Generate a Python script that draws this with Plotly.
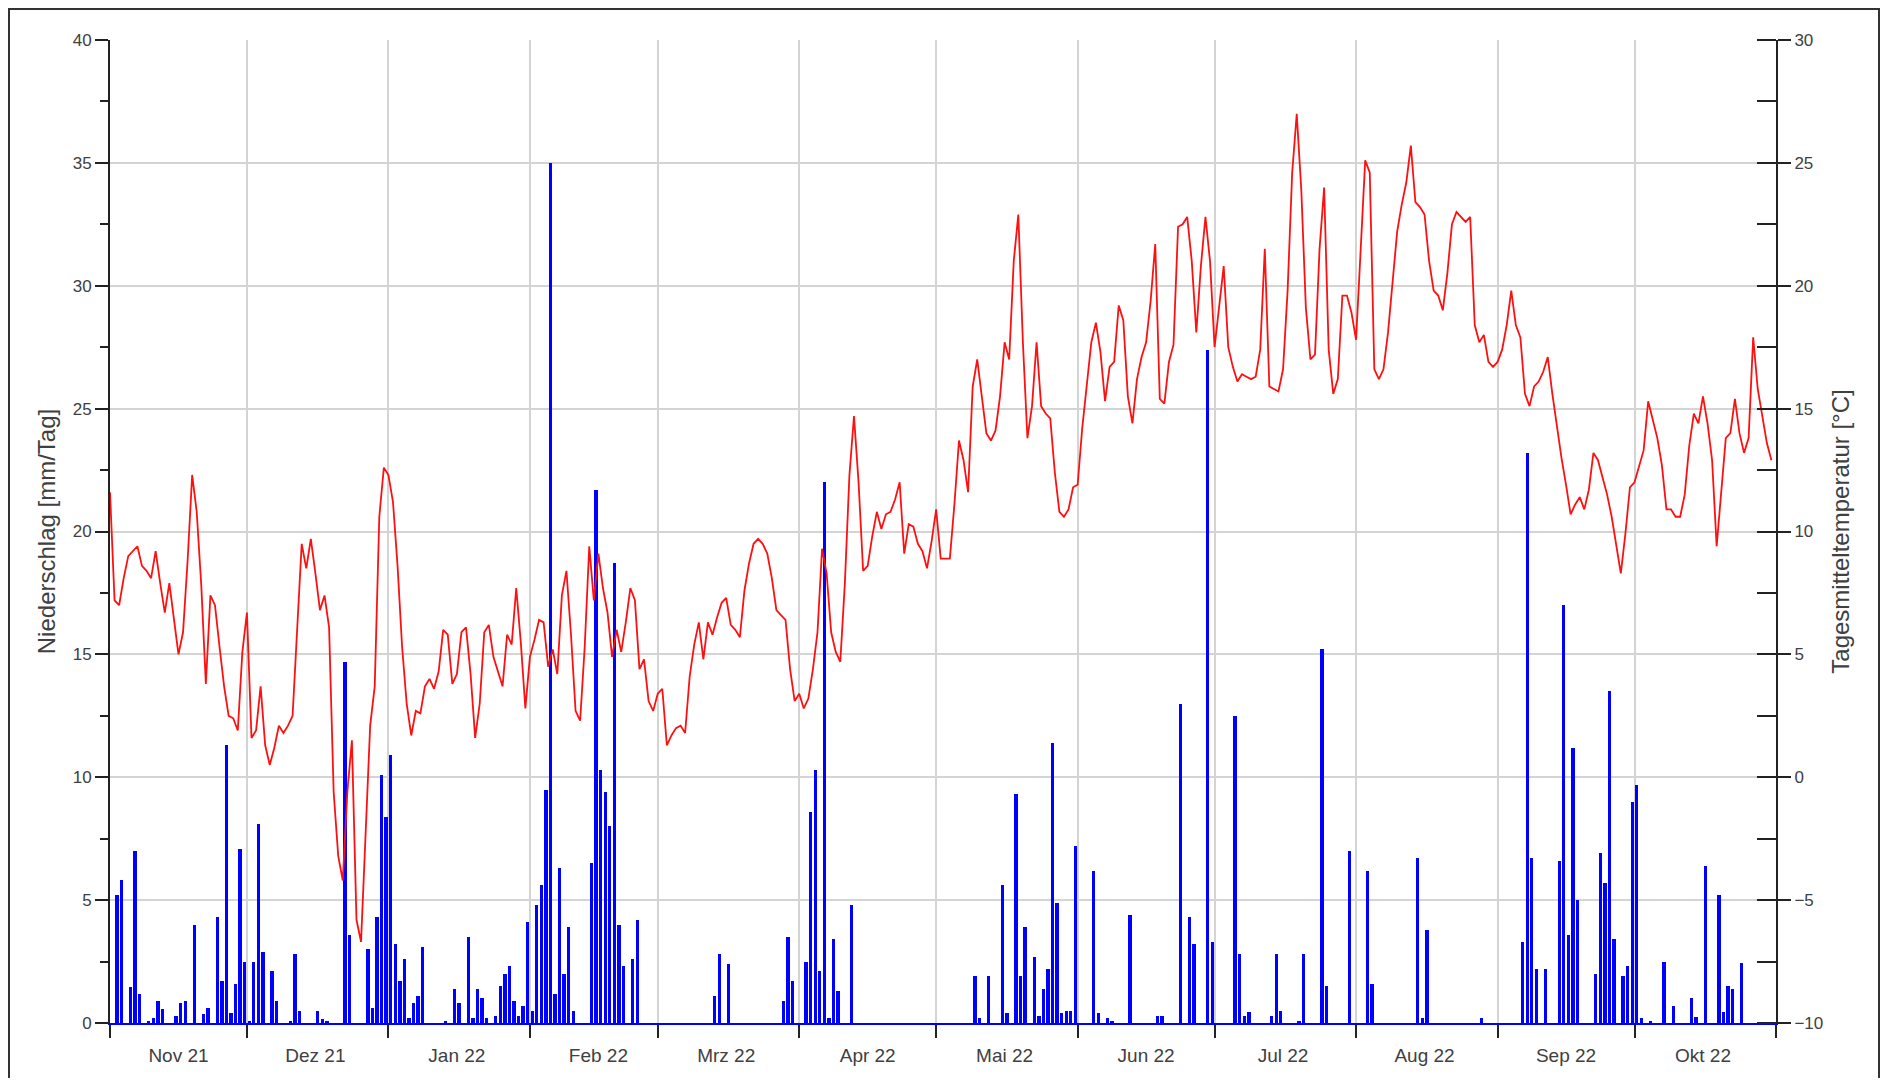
import pandas as pd
import plotly.graph_objects as go

# ---- data (daily values, 1 Nov 2021 .. 31 Oct 2022) ----
start_date = "2021-11-01"
end_date = "2022-11-01"

month_labels = ["Nov 21", "Dez 21", "Jan 22", "Feb 22", "Mrz 22", "Apr 22",
                "Mai 22", "Jun 22", "Jul 22", "Aug 22", "Sep 22", "Okt 22"]

# daily mean temperature [°C]
temperature = [
    # Nov 21
    11.6, 7.2, 7.0, 8.1, 9.0, 9.2, 9.4, 8.6, 8.4, 8.1, 9.2, 7.9, 6.7, 7.9, 6.4,
    5.0, 5.9, 8.8, 12.3, 10.8, 7.8, 3.8, 7.4, 7.0, 5.3, 3.7, 2.5, 2.4, 1.9, 5.1,
    # Dez 21
    6.7, 1.6, 1.9, 3.7, 1.3, 0.5, 1.2, 2.1, 1.8, 2.1, 2.5, 6.1, 9.5, 8.5, 9.7,
    8.3, 6.8, 7.4, 6.1, -0.6, -3.2, -4.2, -0.6, 1.5, -5.8, -6.7, -2.3, 2.1, 3.7,
    10.6, 12.6,
    # Jan 22
    12.3, 11.2, 8.6, 5.3, 3.0, 1.7, 2.7, 2.6, 3.7, 4.0, 3.6, 4.3, 6.0, 5.8, 3.8,
    4.2, 5.9, 6.1, 4.2, 1.6, 3.0, 5.9, 6.2, 4.9, 4.3, 3.7, 5.8, 5.4, 7.7, 5.5, 2.8,
    # Feb 22
    4.9, 5.6, 6.4, 6.3, 4.5, 5.2, 4.2, 7.4, 8.4, 5.8, 2.7, 2.3, 5.3, 9.4, 7.2,
    9.1, 7.7, 6.7, 4.9, 6.0, 5.1, 6.3, 7.7, 7.2, 4.4, 4.8, 3.1, 2.7,
    # Mrz 22
    3.4, 3.6, 1.3, 1.7, 2.0, 2.1, 1.8, 4.1, 5.4, 6.3, 4.8, 6.3, 5.8, 6.5, 7.1,
    7.3, 6.2, 6.0, 5.7, 7.6, 8.7, 9.5, 9.7, 9.5, 9.1, 8.1, 6.8, 6.6, 6.4, 4.4, 3.1,
    # Apr 22
    3.4, 2.8, 3.2, 4.4, 5.9, 9.3, 8.3, 5.9, 5.1, 4.7, 7.9, 12.3, 14.7, 12.0, 8.4,
    8.6, 9.8, 10.8, 10.1, 10.7, 10.8, 11.3, 12.0, 9.1, 10.3, 10.2, 9.5, 9.2, 8.5, 9.6,
    # Mai 22
    10.9, 8.9, 8.9, 8.9, 11.1, 13.7, 12.9, 11.6, 15.9, 17.0, 15.5, 14.0, 13.7, 14.1,
    15.5, 17.7, 17.0, 21.0, 22.9, 17.7, 13.8, 15.1, 17.7, 15.1, 14.8, 14.6, 12.4,
    10.8, 10.6, 10.9, 11.8,
    # Jun 22
    11.9, 14.2, 15.9, 17.7, 18.5, 17.3, 15.3, 16.7, 16.9, 19.2, 18.6, 15.5, 14.4,
    16.2, 17.1, 17.7, 19.4, 21.7, 15.4, 15.2, 16.9, 17.6, 22.4, 22.5, 22.8, 21.0,
    18.1, 20.8, 22.8, 21.0,
    # Jul 22
    17.5, 19.2, 20.8, 17.5, 16.7, 16.1, 16.4, 16.3, 16.2, 16.3, 17.4, 21.5, 15.9,
    15.8, 15.7, 16.6, 19.8, 24.6, 27.0, 23.9, 19.1, 17.0, 17.2, 21.5, 24.0, 17.4,
    15.6, 16.2, 19.6, 19.6, 18.9,
    # Aug 22
    17.8, 21.5, 25.1, 24.6, 16.6, 16.2, 16.6, 18.1, 20.1, 22.2, 23.3, 24.2, 25.7,
    23.4, 23.2, 22.9, 21.0, 19.8, 19.6, 19.0, 20.5, 22.5, 23.0, 22.8, 22.6, 22.8,
    18.4, 17.7, 18.0, 16.9, 16.7,
    # Sep 22
    16.9, 17.4, 18.4, 19.8, 18.4, 17.9, 15.6, 15.1, 15.9, 16.1, 16.5, 17.1, 15.6,
    14.2, 13.0, 11.9, 10.7, 11.1, 11.4, 10.9, 11.7, 13.2, 12.9, 12.2, 11.5, 10.6,
    9.4, 8.3, 9.9, 11.8,
    # Okt 22
    12.0, 12.6, 13.3, 15.3, 14.6, 13.8, 12.7, 10.9, 10.9, 10.6, 10.6, 11.5, 13.5,
    14.8, 14.4, 15.5, 14.4, 12.9, 9.4, 11.5, 13.8, 14.0, 15.4, 14.0, 13.2, 13.8,
    17.9, 15.8, 14.7, 13.6, 12.9,
]

# daily precipitation [mm/Tag]
precipitation = [
    # Nov 21
    0, 5.2, 5.8, 0, 1.45, 7.0, 1.2, 0, 0.05, 0.2, 0.9, 0.55, 0, 0, 0.3,
    0.8, 0.9, 0, 4.0, 0, 0.35, 0.6, 0, 4.3, 1.7, 11.3, 0.4, 1.6, 7.1, 2.5,
    # Dez 21
    0.1, 2.5, 8.1, 2.9, 0, 2.1, 0.9, 0, 0, 0.05, 2.8, 0.5, 0, 0, 0,
    0.5, 0.15, 0.1, 0, 0, 0, 14.7, 3.6, 0, 0, 0, 3.0, 0.6, 4.3, 10.1, 8.4,
    # Jan 22
    10.9, 3.2, 1.7, 2.6, 0.2, 0.8, 1.1, 3.1, 0, 0, 0, 0, 0.1, 0, 1.4,
    0.8, 0, 3.5, 0.2, 1.4, 1.0, 0.2, 0, 0.3, 1.5, 2.0, 2.3, 0.9, 0.3, 0.7, 4.1,
    # Feb 22
    0.5, 4.8, 5.6, 9.5, 35.0, 1.2, 6.3, 2.0, 3.9, 0.5, 0, 0, 0, 6.5,
    21.7, 10.3, 9.4, 8.0, 18.7, 4.0, 2.3, 0, 2.6, 4.2, 0, 0, 0, 0,
    # Mrz 22
    0, 0, 0, 0, 0, 0, 0, 0, 0, 0, 0, 0, 1.1, 2.8, 0,
    2.4, 0, 0, 0, 0, 0, 0, 0, 0, 0, 0, 0, 0.9, 3.5, 1.7, 0,
    # Apr 22
    0, 2.5, 8.6, 10.3, 2.1, 22.0, 0.2, 3.4, 1.3, 0, 0, 4.8, 0, 0, 0,
    0, 0, 0, 0, 0, 0, 0, 0, 0, 0, 0, 0, 0, 0, 0,
    # Mai 22
    0, 0, 0, 0, 0, 0, 0, 0, 1.9, 0.2, 0, 1.9, 0, 0, 5.6,
    0.4, 0, 9.3, 1.9, 3.9, 0, 2.7, 0.3, 1.4, 2.2, 11.4, 4.9, 0.4, 0.5, 0.5, 7.2,
    # Jun 22
    0, 0, 0, 6.2, 0.4, 0, 0.2, 0.05, 0, 0, 0, 4.4, 0, 0, 0,
    0, 0, 0.3, 0.3, 0, 0, 0, 13.0, 0, 4.3, 3.2, 0, 0, 27.4, 3.3,
    # Jul 22
    0, 0, 0, 0, 12.5, 2.8, 0.3, 0.45, 0, 0, 0, 0, 0.3, 2.8, 0.5,
    0, 0, 0, 0.05, 2.8, 0, 0, 0, 15.2, 1.5, 0, 0, 0, 0, 7.0, 0,
    # Aug 22
    0, 0, 6.2, 1.6, 0, 0, 0, 0, 0, 0, 0, 0, 0, 6.7, 0.2,
    3.8, 0, 0, 0, 0, 0, 0, 0, 0, 0, 0, 0, 0.2, 0, 0, 0,
    # Sep 22
    0, 0, 0, 0, 0, 3.3, 23.2, 6.7, 2.2, 0, 2.2, 0, 0, 6.6, 17.0,
    3.6, 11.2, 5.0, 0, 0, 0, 2.0, 6.9, 5.7, 13.5, 3.4, 0, 1.9, 2.3, 9.0,
    # Okt 22
    9.7, 0.2, 0, 0.1, 0, 0, 2.5, 0, 0.7, 0, 0, 0, 1.0, 0.25, 0,
    6.4, 0, 0, 5.2, 0.45, 1.5, 1.4, 0, 2.45, 0, 0, 0, 0, 0, 0, 0,
]

# ---- dates ----
days = pd.date_range(start_date, periods=len(temperature), freq="D")
bar_x = days + pd.Timedelta(hours=12)
month_starts = pd.date_range(start_date, end_date, freq="MS")
month_mids = [m + pd.Timedelta(days=15) for m in month_starts[:-1]]

FONT = "Liberation Sans, Arial, sans-serif"
TXT = "#404040"
GRID = "#d4d4d4"
AX = "#222222"

W, H = 1872, 1070
ML, MR, MT = 102, 104, 32
MB = H - MT - 985

fig = go.Figure()
fig.add_trace(go.Bar(
    x=bar_x, y=precipitation, yaxis="y",
    marker=dict(color="#0000ff", line=dict(width=0)),
    width=0.74 * 86400000, showlegend=False,
))
fig.add_trace(go.Scatter(
    x=days, y=temperature, yaxis="y2", mode="lines",
    line=dict(color="#ff1010", width=1.8), showlegend=False,
))

pw = W - ML - MR
ph = H - MT - MB

fig.update_layout(
    width=W, height=H,
    margin=dict(l=ML, r=MR, t=MT, b=MB),
    paper_bgcolor="white", plot_bgcolor="white",
    font=dict(family=FONT, size=17, color=TXT),
    bargap=0,
    xaxis=dict(
        type="date",
        range=[start_date, end_date],
        tickmode="array",
        tickvals=month_mids, ticktext=month_labels,
        ticks="", showgrid=False, zeroline=False,
        showline=True, linecolor="#0000ff", linewidth=2,
        ticklabelstandoff=14,
        tickfont=dict(size=19, color=TXT, family=FONT),
        minor=dict(tickmode="array", tickvals=list(month_starts),
                   ticks="outside", ticklen=13, tickwidth=2, tickcolor=AX,
                   showgrid=True, gridcolor=GRID, gridwidth=1.5),
    ),
    yaxis=dict(
        range=[0, 40], tickmode="linear", tick0=0, dtick=5,
        ticks="outside", ticklen=13, tickwidth=2, tickcolor=AX,
        showline=True, linecolor=AX, linewidth=2,
        showgrid=True, gridcolor=GRID, gridwidth=1.5, zeroline=False,
        minor=dict(dtick=2.5, ticks="outside", ticklen=8, tickwidth=2,
                   tickcolor=AX, showgrid=False),
        title=dict(text="Niederschlag [mm/Tag]", font=dict(size=24, color=TXT),
                   standoff=10),
        tickfont=dict(size=17, color=TXT),
    ),
    yaxis2=dict(
        overlaying="y", side="right",
        range=[-10, 30], tickmode="linear", tick0=-10, dtick=5,
        ticks="outside", ticklen=13, tickwidth=2, tickcolor=AX,
        showline=True, linecolor=AX, linewidth=2,
        showgrid=False, zeroline=False,
        minor=dict(dtick=2.5, ticks="inside", ticklen=19, tickwidth=2,
                   tickcolor=AX, showgrid=False),
        title=dict(text="Tagesmitteltemperatur [°C]", font=dict(size=24, color=TXT),
                   standoff=10),
        tickfont=dict(size=17, color=TXT),
    ),
    shapes=[dict(type="rect", xref="paper", yref="paper",
                 x0=(1 - ML) / pw, x1=(W - 1 - ML) / pw,
                 y0=-0.2, y1=(ph + MT - 1) / ph,
                 line=dict(color="#333", width=2), fillcolor="rgba(0,0,0,0)",
                 layer="below")],
)

fig.write_html("out.html")
